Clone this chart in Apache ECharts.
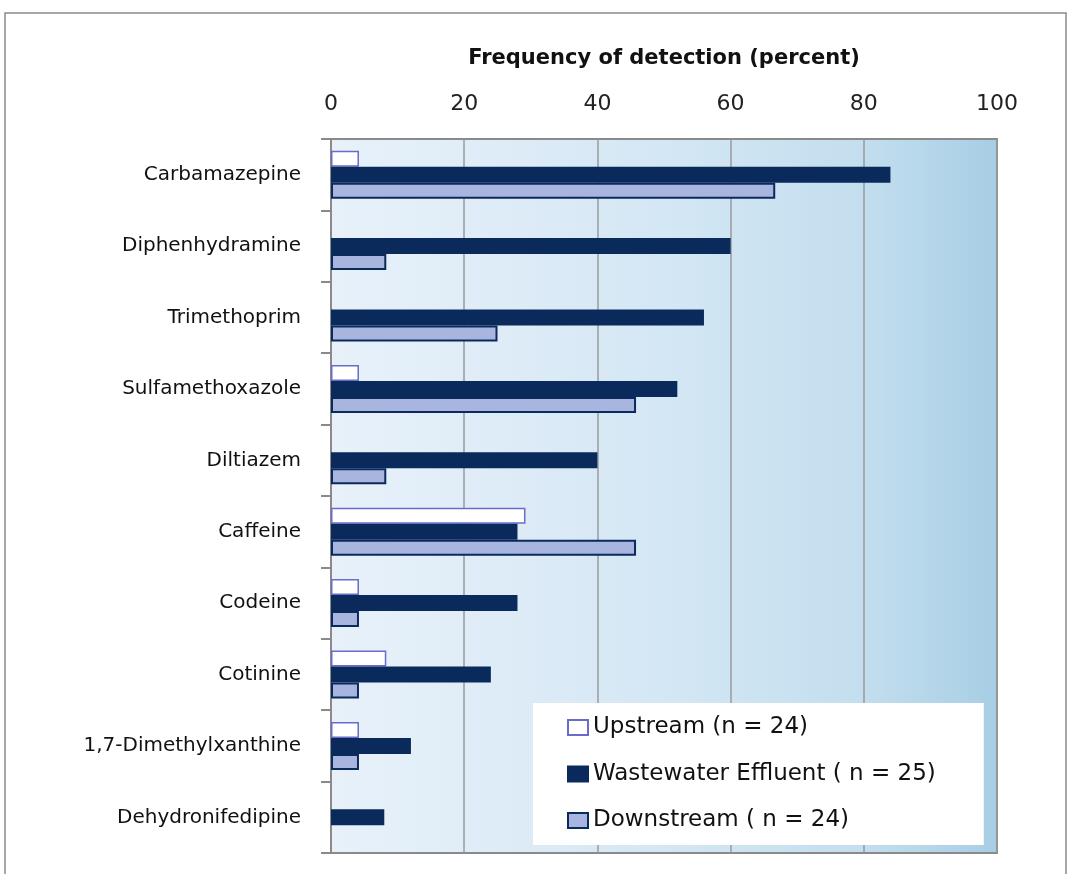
<!DOCTYPE html>
<html><head><meta charset="utf-8">
<script src="https://cdn.jsdelivr.net/npm/echarts@6/dist/echarts.min.js"></script>
<style>html,body{margin:0;padding:0;background:#fff}#c{width:1071px;height:874px}</style>
</head><body><div id="c"></div>
<script>
const categories = ['Carbamazepine','Diphenhydramine','Trimethoprim','Sulfamethoxazole','Diltiazem','Caffeine','Codeine','Cotinine','1,7-Dimethylxanthine','Dehydronifedipine'];
const upstream = [4.2, 0, 0, 4.2, 0, 29.2, 4.2, 8.3, 4.2, 0];
const wastewater = [84, 60, 56, 52, 40, 28, 28, 24, 12, 8];
const downstream = [66.7, 8.3, 25, 45.8, 8.3, 45.8, 4.2, 4.2, 4.2, 0];
const xTicks = [0, 20, 40, 60, 80, 100];
const seriesNames = ['Upstream (n = 24)', 'Wastewater Effluent ( n = 25)', 'Downstream ( n = 24)'];

const nz = arr => arr.map(v => v === 0 ? null : v);
const chart = echarts.init(document.getElementById('c'));
const font = '"DejaVu Sans", sans-serif';
chart.setOption({
  animation: false,
  textStyle: {fontFamily: font},
  graphic: [{
    type: 'rect', shape: {x: 5, y: 13, width: 1061, height: 880},
    style: {fill: 'none', stroke: '#8a8a8a', lineWidth: 1.5}, silent: true, z: -10
  }],
  grid: {
    left: 331, right: 74, top: 139, bottom: 21, show: true,
    borderColor: '#8a8a8a', borderWidth: 2,
    backgroundColor: new echarts.graphic.LinearGradient(0, 0, 1, 0, [
      {offset: 0, color: '#e8f1fa'},
      {offset: 0.5, color: '#d4e7f4'},
      {offset: 0.8, color: '#c3deee'},
      {offset: 1, color: '#a7cee5'}
    ])
  },
  legend: {
    orient: 'vertical', left: 533, top: 703,
    backgroundColor: '#ffffff', borderWidth: 0,
    padding: [13, 48, 13, 34],
    itemWidth: 20, itemHeight: 15, itemGap: 23.5,
    textStyle: {fontSize: 23, color: '#111', fontFamily: font},
    data: seriesNames.map(n => ({name: n, icon: 'rect'}))
  },
  xAxis: {
    type: 'value', position: 'top', min: 0, max: 100, interval: 20,
    name: 'Frequency of detection (percent)', nameLocation: 'middle', nameGap: 70,
    nameTextStyle: {fontSize: 21, fontWeight: 'bold', color: '#111', fontFamily: font},
    axisLine: {show: false}, axisTick: {show: false},
    axisLabel: {fontSize: 22, color: '#222', margin: 24, fontFamily: font, formatter: v => xTicks.includes(v) ? String(v) : ''},
    splitLine: {show: true, lineStyle: {color: '#9a9a9a', width: 1.5}}
  },
  yAxis: {
    type: 'category', inverse: true, data: categories,
    axisLine: {show: true, lineStyle: {color: '#8a8a8a', width: 2}},
    axisTick: {show: true, length: 10, interval: 0, lineStyle: {color: '#8a8a8a', width: 2}},
    axisLabel: {fontSize: 20, color: '#111', margin: 30, interval: 0}
  },
  series: [
    {name: seriesNames[0], type: 'bar', data: nz(upstream), barWidth: 16, barGap: '0%',
     itemStyle: {color: '#ffffff', borderColor: '#6a6ccc', borderWidth: 1.5}},
    {name: seriesNames[1], type: 'bar', data: nz(wastewater), barWidth: 16, barGap: '0%',
     itemStyle: {color: '#0b2a5c', borderColor: '#0b2a5c', borderWidth: 1.5}},
    {name: seriesNames[2], type: 'bar', data: nz(downstream), barWidth: 16, barGap: '0%',
     itemStyle: {color: '#a8b5de', borderColor: '#0b2a5c', borderWidth: 2}}
  ]
});
</script></body></html>
